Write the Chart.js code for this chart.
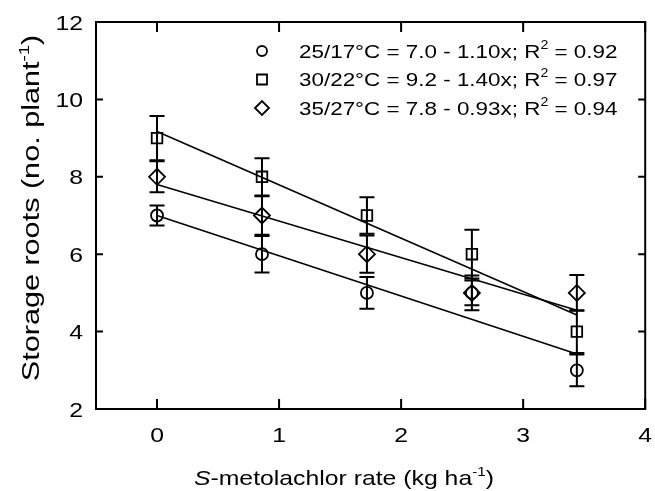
<!DOCTYPE html>
<html><head><meta charset="utf-8">
<script src="https://cdn.jsdelivr.net/npm/chart.js@4/dist/chart.umd.min.js"></script>
<style>html,body{margin:0;padding:0;background:#fff}#wrap{width:655px;height:491px}</style>
</head><body><div id="wrap"><canvas id="c" width="655" height="491"></canvas></div>
<script>
// ---- data ----
const rates = [0, 0.86, 1.72, 2.58, 3.44];
const mean25 = [7.0, 6.0, 5.0, 5.0, 3.0];
const err25  = [0.26, 0.47, 0.41, 0.32, 0.41];
const mean30 = [9.0, 8.0, 7.0, 6.0, 4.0];
const err30  = [0.57, 0.48, 0.47, 0.63, 0.55];
const mean35 = [8.0, 7.0, 6.0, 5.0, 5.0];
const err35  = [0.40, 0.50, 0.48, 0.45, 0.46];
const fitX  = [0, 3.44];
const fit25 = [7.0, 3.42];
const fit30 = [9.17, 4.43];
const fit35 = [7.80, 4.55];
const xTicks = [0, 1, 2, 3, 4];
const yTicks = [2, 4, 6, 8, 10, 12];
const legendNames = ['25/17°C', '30/22°C', '35/27°C'];
const legendEqs   = ['7.0 - 1.10x', '9.2 - 1.40x', '7.8 - 0.93x'];
const legendR2    = ['0.92', '0.97', '0.94'];
const legendStyles = ['circle', 'rect', 'rectRot'];

const FONT = '"Liberation Sans", Arial, sans-serif';
const SX = 1.18;

function pts(xs, ys){ return xs.map((x,i)=>({x:x, y:ys[i]})); }

function fontFor(s, size){
  const sz = s.sup ? Math.round(size*0.62) : size;
  return (s.italic ? 'italic ' : '') + sz + 'px ' + FONT;
}
function drawRich(ctx, segs, x, y, size, sx, align, rot){
  ctx.save();
  ctx.translate(x, y);
  if (rot) ctx.rotate(rot);
  ctx.scale(sx, 1);
  ctx.textAlign = 'left'; ctx.textBaseline = 'alphabetic'; ctx.fillStyle = '#000';
  let total = 0;
  for (const s of segs){ ctx.font = fontFor(s, size); total += ctx.measureText(s.t).width; }
  let cx = align === 'center' ? -total/2 : (align === 'right' ? -total : 0);
  for (const s of segs){
    ctx.font = fontFor(s, size);
    ctx.fillText(s.t, cx, s.sup ? -size*0.45 : 0);
    cx += ctx.measureText(s.t).width;
  }
  ctx.restore();
}
function drawMarker(ctx, style, x, y, r){
  ctx.beginPath();
  if (style === 'circle') ctx.arc(x, y, r, 0, Math.PI*2);
  else if (style === 'rect') ctx.rect(x - r, y - r, 2*r, 2*r);
  else { ctx.moveTo(x - r, y); ctx.lineTo(x, y - r); ctx.lineTo(x + r, y); ctx.lineTo(x, y + r); ctx.closePath(); }
  ctx.stroke();
}

const errorBars = {
  id: 'errorBars',
  beforeDatasetsDraw(chart){
    const {ctx, scales:{x, y}} = chart;
    ctx.save();
    ctx.strokeStyle = '#000'; ctx.lineWidth = 2;
    chart.data.datasets.forEach(ds => {
      if (!ds.errors) return;
      ds.data.forEach((p, i) => {
        const px = x.getPixelForValue(p.x);
        const top = y.getPixelForValue(p.y + ds.errors[i]);
        const bot = y.getPixelForValue(p.y - ds.errors[i]);
        ctx.beginPath();
        ctx.moveTo(px, top); ctx.lineTo(px, bot);
        ctx.moveTo(px - 7.5, top); ctx.lineTo(px + 7.5, top);
        ctx.moveTo(px - 7.5, bot); ctx.lineTo(px + 7.5, bot);
        ctx.stroke();
      });
    });
    ctx.restore();
  }
};

const frameAndText = {
  id: 'frameAndText',
  afterDraw(chart){
    const {ctx, chartArea:a, scales:{x, y}} = chart;
    ctx.save();
    ctx.strokeStyle = '#000'; ctx.lineWidth = 2;
    ctx.strokeRect(a.left, a.top, a.right - a.left, a.bottom - a.top);
    ctx.beginPath();
    x.ticks.forEach(t => {
      const px = x.getPixelForValue(t.value);
      ctx.moveTo(px, a.bottom); ctx.lineTo(px, a.bottom - 10);
      ctx.moveTo(px, a.top); ctx.lineTo(px, a.top + 10);
    });
    y.ticks.forEach(t => {
      const py = y.getPixelForValue(t.value);
      ctx.moveTo(a.left, py); ctx.lineTo(a.left + 7, py);
      ctx.moveTo(a.right, py); ctx.lineTo(a.right - 7, py);
    });
    ctx.stroke();
    // tick labels
    x.ticks.forEach(t => {
      drawRich(ctx, [{t: String(t.value)}], x.getPixelForValue(t.value), a.bottom + 33, 21, SX, 'center');
    });
    y.ticks.forEach(t => {
      drawRich(ctx, [{t: String(t.value)}], a.left - 13, y.getPixelForValue(t.value) + 7.5, 21, SX, 'right');
    });
    // axis titles
    drawRich(ctx, [{t:'S', italic:true}, {t:'-metolachlor rate (kg ha'}, {t:'-1', sup:true}, {t:')'}],
      344, 485, 21, SX, 'center');
    drawRich(ctx, [{t:'Storage roots (no. plant'}, {t:'-1', sup:true}, {t:')'}],
      39, 208, 23, 1.33, 'center', -Math.PI/2);
    // legend
    ctx.lineWidth = 1.8;
    legendNames.forEach((n, i) => {
      const base = 57.5 + i*28.5;
      drawMarker(ctx, legendStyles[i], 262, base - 6.5, legendStyles[i] === 'rectRot' ? 7 : 5);
      drawRich(ctx, [{t: n + ' = ' + legendEqs[i] + '; R'}, {t:'2', sup:true}, {t:' = ' + legendR2[i]}],
        299, base, 19, SX, 'left');
    });
    ctx.restore();
  }
};

const lineDs = (ys) => ({
  type: 'line', data: pts(fitX, ys), borderColor: '#000', borderWidth: 1.5,
  pointRadius: 0, fill: false, tension: 0, order: 2
});
const markDs = (ys, errs, style, r) => ({
  type: 'scatter', data: pts(rates, ys), errors: errs, pointStyle: style, pointRadius: r,
  pointHoverRadius: r, borderColor: '#000', backgroundColor: 'rgba(0,0,0,0)', borderWidth: 1.8, order: 1
});

new Chart(document.getElementById('c'), {
  type: 'scatter',
  data: { datasets: [
    lineDs(fit25), lineDs(fit30), lineDs(fit35),
    markDs(mean25, err25, 'circle', 6),
    markDs(mean30, err30, 'rect', 7.5),
    markDs(mean35, err35, 'rectRot', 8)
  ]},
  options: {
    responsive: false, animation: false, events: [],
    layout: { padding: { left: 0, top: 22, right: 9, bottom: 0 } },
    plugins: { legend: { display: false }, tooltip: { enabled: false } },
    scales: {
      x: { type: 'linear', min: -0.5, max: 4,
        afterBuildTicks: s => { s.ticks = xTicks.map(v => ({value: v})); },
        ticks: { display: false }, grid: { display: false }, border: { display: false },
        afterFit: s => { s.height = 82; } },
      y: { type: 'linear', min: 2, max: 12,
        afterBuildTicks: s => { s.ticks = yTicks.map(v => ({value: v})); },
        ticks: { display: false }, grid: { display: false }, border: { display: false },
        afterFit: s => { s.width = 96; } }
    }
  },
  plugins: [errorBars, frameAndText]
});
</script></body></html>
